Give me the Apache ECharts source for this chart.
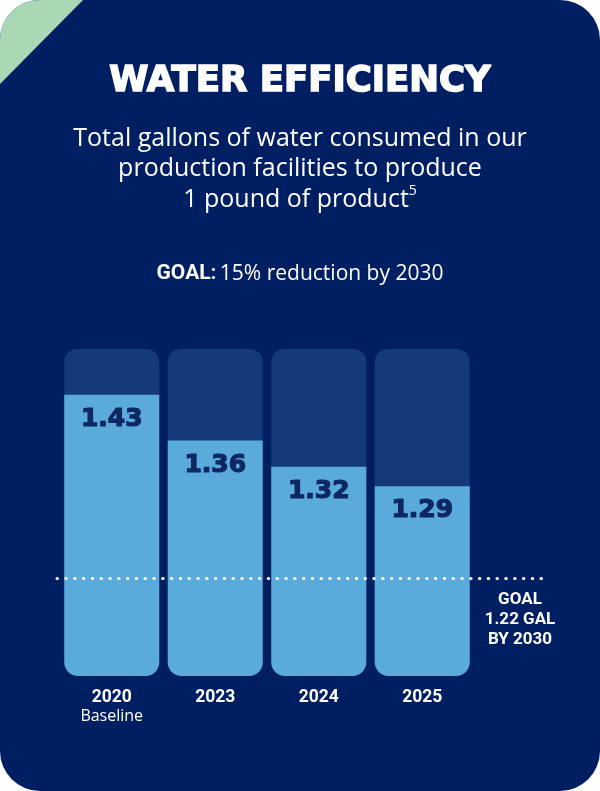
<!DOCTYPE html>
<html>
<head>
<meta charset="utf-8">
<script src="https://cdn.jsdelivr.net/npm/echarts@6/dist/echarts.min.js"></script>
<style>
  html, body { margin: 0; padding: 0; background: #ffffff; }
  #chart { width: 600px; height: 791px; }
</style>
</head>
<body>
<div id="chart"></div>
<script>
// ---- data ----
const categories = ['2020', '2023', '2024', '2025'];
const subLabels = ['Baseline', '', '', ''];
const values = [1.43, 1.36, 1.32, 1.29];
const goalValue = 1.22;
const goalLineAt = 1.15;   // where the dotted goal line sits on the drawn scale
const axisMin = 1.0;
const axisMax = 1.5;

// ---- colours ----
const NAVY = '#001f63';
const TRACK = '#143a7c';
const BLUE = '#5aaadc';
const LABEL = '#0d2763';
const GREEN = '#a8d8b4';

const chart = echarts.init(document.getElementById('chart'), null, { renderer: 'canvas' });

const option = {
  animation: false,
  backgroundColor: 'transparent',
  graphic: [
    { type: 'rect', z: -10, shape: { x: 0, y: 0, width: 600, height: 791, r: 40 }, style: { fill: NAVY } },
    { type: 'rect', z: -9, shape: { x: 0, y: 0, width: 150, height: 150, r: [40, 0, 0, 0] }, style: { fill: GREEN } },
    { type: 'polygon', z: -8, shape: { points: [[83, 0], [150, 0], [150, 150], [0, 150], [0, 84]] }, style: { fill: NAVY } },
    {
      type: 'text', z: 5, x: 300, y: 82,
      style: {
        text: 'WATER EFFICIENCY', fill: '#ffffff', stroke: '#ffffff', lineWidth: 1.6,
        font: '900 35.5px "DejaVu Sans"', textAlign: 'center', textVerticalAlign: 'middle'
      }
    },
    {
      type: 'text', z: 5, x: 300, y: 169,
      style: {
        text: 'Total gallons of water consumed in our\nproduction facilities to produce\n1 pound of product{sup|5}',
        fill: '#ffffff', fontFamily: 'Open Sans', fontSize: 25, lineHeight: 30.5,
        textAlign: 'center', textVerticalAlign: 'middle',
        rich: { sup: { fontSize: 14, fontFamily: 'Open Sans', fill: '#ffffff', verticalAlign: 'top', lineHeight: 22 } }
      }
    },
    {
      type: 'text', z: 5, x: 300, y: 274,
      style: {
        text: '{b|GOAL:} {r|15% reduction by 2030}',
        textAlign: 'center', textVerticalAlign: 'middle',
        rich: {
          b: { fontFamily: 'Roboto', fontWeight: 'bold', fontSize: 21, fill: '#ffffff' },
          r: { fontFamily: 'Open Sans', fontSize: 21, fill: '#ffffff' }
        }
      }
    },
    {
      type: 'text', z: 5, x: 520, y: 620,
      style: {
        text: 'GOAL\n' + goalValue.toFixed(2) + ' GAL\nBY 2030',
        fill: '#ffffff', fontFamily: 'Roboto', fontWeight: 'bold', fontSize: 17, lineHeight: 20,
        textAlign: 'center', textVerticalAlign: 'middle'
      }
    }
  ],
  grid: [
    { left: 60, right: 126, top: 349, bottom: 115 },
    { left: 57, right: 58, top: 349, bottom: 115 }
  ],
  xAxis: [
    {
      type: 'category', gridIndex: 0, data: categories,
      axisLine: { show: false }, axisTick: { show: false },
      axisLabel: {
        margin: 12, interval: 0,
        formatter: (v, i) => subLabels[i] ? '{y|' + v + '}\n{s|' + subLabels[i] + '}' : '{y|' + v + '}',
        rich: {
          y: { fontFamily: 'Roboto', fontWeight: 'bold', fontSize: 17.5, color: '#ffffff', lineHeight: 19 },
          s: { fontFamily: 'Open Sans', fontSize: 16, color: '#ffffff', lineHeight: 19 }
        },
        verticalAlign: 'top'
      }
    },
    { type: 'value', gridIndex: 1, min: 0, max: 1, show: false }
  ],
  yAxis: [
    { type: 'value', gridIndex: 0, min: axisMin, max: axisMax, show: false },
    { type: 'value', gridIndex: 1, min: axisMin, max: axisMax, show: false }
  ],
  series: [
    {
      type: 'bar', xAxisIndex: 0, yAxisIndex: 0,
      data: values, barWidth: 95,
      showBackground: true,
      backgroundStyle: { color: TRACK, borderRadius: 13 },
      itemStyle: { color: BLUE, borderRadius: [0, 0, 14, 14] },
      label: {
        show: true, position: 'insideTop', distance: 12,
        formatter: (p) => p.value.toFixed(2),
        fontFamily: 'DejaVu Sans', fontWeight: 'bold', fontSize: 25, color: LABEL,
        textBorderColor: LABEL, textBorderWidth: 1.2
      }
    },
    {
      type: 'line', xAxisIndex: 1, yAxisIndex: 1, data: [], z: 10,
      markLine: {
        silent: true, symbol: ['none', 'none'], z: 10,
        label: { show: false },
        lineStyle: { color: '#ffffff', width: 3, type: [0.5, 8.3], cap: 'round' },
        data: [{ yAxis: goalLineAt }]
      }
    }
  ]
};

chart.setOption(option);
</script>
</body>
</html>
